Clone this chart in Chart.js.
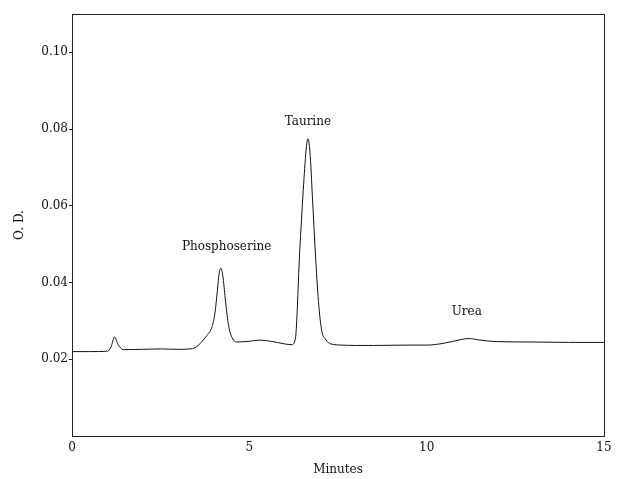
<!DOCTYPE html>
<html>
<head>
<meta charset="utf-8">
<script src="https://cdn.jsdelivr.net/npm/chart.js@4"></script>
<style>
  html, body { margin: 0; padding: 0; background: #fff; }
  #wrap { width: 618px; height: 479px; }
</style>
</head>
<body>
<div id="wrap"><canvas id="chart" width="618" height="479"></canvas></div>
<script>
// chromatogram trace
const minutes = [0, 0.5, 1.0, 1.1, 1.2, 1.3, 1.45, 2.0, 2.5, 3.0, 3.4, 3.6, 3.8, 3.95, 4.03, 4.1, 4.15, 4.2, 4.26, 4.33, 4.42, 4.52, 4.65, 5.0, 5.3, 5.6, 6.0, 6.2, 6.3, 6.42, 6.52, 6.6, 6.65, 6.71, 6.78, 6.86, 6.95, 7.04, 7.15, 7.3, 7.6, 8.0, 8.5, 9.5, 10.0, 10.5, 11.0, 11.2, 11.5, 12.0, 13.0, 14.0, 15.0];
const od = [0.0220, 0.0220, 0.0221, 0.0232, 0.0258, 0.0238, 0.0225, 0.0226, 0.0227, 0.0226, 0.0228, 0.0240, 0.0262, 0.0285, 0.0320, 0.0380, 0.0425, 0.0437, 0.0412, 0.0350, 0.0285, 0.0255, 0.0245, 0.0247, 0.0250, 0.0247, 0.0240, 0.0238, 0.0255, 0.0480, 0.0640, 0.0745, 0.0775, 0.0740, 0.0620, 0.0480, 0.0350, 0.0275, 0.0252, 0.0240, 0.0237, 0.0236, 0.0236, 0.0237, 0.0237, 0.0242, 0.0252, 0.0254, 0.0250, 0.0246, 0.0245, 0.0244, 0.0244];

const xTicks = [0, 5, 10, 15];
const yTicks = [0.02, 0.04, 0.06, 0.08, 0.10];

const peakNames = ['Phosphoserine', 'Taurine', 'Urea'];
const peakX = [4.36, 6.65, 11.13];
const peakY = [0.0494, 0.0820, 0.0324];

const FONT = '"DejaVu Serif", "Liberation Serif", serif';

// frame round the plot + peak names
const extras = {
    id: 'extras',
    afterDraw(chart) {
        const { ctx, chartArea: a, scales } = chart;
        ctx.save();
        ctx.strokeStyle = '#222';
        ctx.lineWidth = 1;
        ctx.strokeRect(a.left + 0.5, a.top + 0.5, a.right - a.left, a.bottom - a.top);
        ctx.fillStyle = '#111';
        ctx.font = '12px ' + FONT;
        ctx.textAlign = 'center';
        ctx.textBaseline = 'middle';
        peakNames.forEach((name, i) => {
            ctx.fillText(name, scales.x.getPixelForValue(peakX[i]), scales.y.getPixelForValue(peakY[i]));
        });
        ctx.restore();
    }
};

new Chart(document.getElementById('chart'), {
    type: 'scatter',
    data: {
        datasets: [{
            data: minutes.map((m, i) => ({ x: m, y: od[i] })),
            showLine: true,
            borderColor: '#111',
            borderWidth: 1,
            pointRadius: 0,
            cubicInterpolationMode: 'monotone'
        }]
    },
    options: {
        responsive: false,
        animation: false,
        layout: { padding: { top: 14, right: 14, left: 0, bottom: 0 } },
        plugins: { legend: { display: false }, tooltip: { enabled: false } },
        scales: {
            x: {
                type: 'linear',
                min: 0,
                max: 15,
                afterBuildTicks: s => { s.ticks = xTicks.map(v => ({ value: v })); },
                afterFit: s => { s.height = 43; },
                grid: { display: false },
                border: { display: true, color: '#222' },
                ticks: { color: '#111', font: { family: FONT, size: 12 }, padding: -3, maxRotation: 0 },
                title: { display: true, text: 'Minutes', color: '#111', font: { family: FONT, size: 12 }, padding: { top: 6, bottom: 2 } }
            },
            y: {
                min: 0,
                max: 0.11,
                afterBuildTicks: s => { s.ticks = yTicks.map(v => ({ value: v })); },
                afterFit: s => { s.width = 72; },
                grid: { drawOnChartArea: false, drawTicks: true, tickLength: 3, color: '#222' },
                border: { display: true, color: '#222' },
                ticks: { color: '#111', font: { family: FONT, size: 12 }, padding: 1, callback: v => v.toFixed(2) },
                title: { display: true, text: 'O. D.', color: '#111', font: { family: FONT, size: 12 }, padding: { top: 13, bottom: 0 } }
            }
        }
    },
    plugins: [extras]
});
</script>
</body>
</html>
